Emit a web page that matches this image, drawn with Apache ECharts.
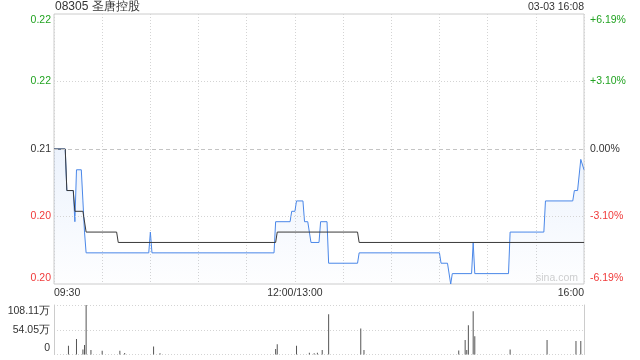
<!DOCTYPE html>
<html>
<head>
<meta charset="utf-8">
<script src="https://cdn.jsdelivr.net/npm/echarts@6/dist/echarts.min.js"></script>
<style>
html,body{margin:0;padding:0;background:#fff;}
#chart{width:640px;height:360px;}
</style>
</head>
<body>
<div id="chart"></div>
<script>
// ---- data ----
const title = '08305 圣唐控股';
const stamp = '03-03 16:08';
const prevClose = 0.21;
const priceStep = 0.0065;               // one gridline step on the price axis
const priceTickLabels = ['0.20', '0.20', '0.21', '0.22', '0.22'];
const pctTickLabels = ['-6.19%', '-3.10%', '0.00%', '+3.10%', '+6.19%'];
const volTickLabels = ['0', '54.05万', '108.11万'];
const volMax = 1081100;
const timeLabels = { 0: '09:30', 150: '12:00/13:00', 330: '16:00' };

// price line (change points)
const priceTimes = ['09:30','09:37','09:38','09:42','09:43','09:44','09:47','09:48','09:49','09:50',
  '10:29','10:30','10:31','11:47','11:48','11:57','11:58','12:00','13:01','13:05','13:06','13:08',
  '13:10','13:15','13:16','13:20','13:21','13:39','13:40','14:30','14:31','14:35','14:37','14:38',
  '14:50','14:51','14:52','15:13','15:14','15:35','15:36','15:53','15:54','15:56','15:58','16:00'];
const prices = [0.210,0.210,0.206,0.206,0.203,0.208,0.208,0.205,0.202,0.200,
  0.200,0.202,0.200,0.200,0.203,0.203,0.204,0.204,0.205,0.205,0.203,0.203,
  0.201,0.201,0.203,0.203,0.199,0.199,0.200,0.200,0.199,0.199,0.197,0.198,
  0.198,0.201,0.198,0.198,0.202,0.202,0.205,0.205,0.206,0.206,0.209,0.208];

// average price line (change points)
const avgTimes = ['09:30','09:37','09:38','09:42','09:43','09:48','09:50','10:09','10:10',
  '11:48','11:49','13:39','13:40','16:00'];
const avgPrices = [0.210,0.210,0.206,0.206,0.204,0.204,0.202,0.202,0.201,
  0.201,0.202,0.202,0.201,0.201];

// volume bars
const volTimes = ['09:39','09:44','09:48','09:49','09:50','09:53','10:00','10:11','10:14','10:32','10:36',
  '11:48','11:49','13:01','13:09','13:12','13:14','13:17','13:21','13:41','13:43',
  '14:42','14:46','14:47','14:48','14:51','14:52','15:14','15:37','15:55','15:58'];
const volumes = [190000,340000,110000,210000,1081100,100000,80000,80000,35000,175000,30000,
  120000,225000,190000,40000,30000,40000,100000,880000,570000,100000,
  90000,315000,100000,640000,945000,400000,108000,315000,295000,295000];

// ---- helpers ----
const GREEN = '#22a322', RED = '#f03a3a', TXT = '#333';
const FONT = 'Liberation Sans, Arial, sans-serif';
function toIdx(t){
  const [h, m] = t.split(':').map(Number);
  const v = h*60 + m;
  return v <= 720 ? v - 570 : v - 780 + 150;
}
const toStep = p => (p - prevClose) / priceStep;
const priceData = priceTimes.map((t,i)=>[toIdx(t), toStep(prices[i])]);
const avgData = avgTimes.map((t,i)=>[toIdx(t), toStep(avgPrices[i])]);
const volData = volTimes.map((t,i)=>[toIdx(t), volumes[i]]);

function sideLabel(arr){
  return function(v){
    const i = Math.round(v) + 2;
    const s = arr[i];
    if (i === arr.length - 1) return '{t|' + s + '}';
    if (i === 0) return '{b|' + s + '}';
    return '{m|' + s + '}';
  };
}
const signColor = v => (v > 0.001 ? GREEN : (v < -0.001 ? RED : TXT));
const richShift = { t:{padding:[12,0,0,0]}, b:{padding:[0,0,12,0]}, m:{} };
const dotted = { color:'#d4d4d4', type:[1,2], width:1 };

const chart = echarts.init(document.getElementById('chart'), null, {renderer:'canvas'});
chart.setOption({
  animation:false,
  backgroundColor:'#fff',
  textStyle:{fontFamily:FONT},
  graphic:[
    {type:'text', left:55, top:1, style:{text:title, fontSize:12, fill:TXT, fontFamily:FONT}},
    {type:'text', right:56, top:2, style:{text:stamp, fontSize:10.5, fill:TXT, fontFamily:FONT}},
    {type:'text', right:62, top:273, style:{text:'sina.com', fontSize:10.5, fill:'#cfcfcf', fontFamily:FONT}}
  ],
  grid:[
    {left:54, right:56, top:14, height:270, show:true, borderColor:'#cccccc', borderWidth:1, backgroundColor:'transparent'},
    {left:54, right:56, top:305, height:49.5}
  ],
  xAxis:[
    {type:'value', gridIndex:0, min:0, max:330, interval:30,
     axisLine:{show:false}, axisTick:{show:false},
     splitLine:{show:true, lineStyle:dotted},
     axisLabel:{show:true, margin:4, fontSize:10.5, color:TXT, fontFamily:FONT,
       showMinLabel:true, showMaxLabel:true, alignMinLabel:'left', alignMaxLabel:'right',
       formatter:v => timeLabels[Math.round(v)] || ''}},
    {type:'value', gridIndex:1, min:0, max:330, interval:30,
     axisLine:{show:false}, axisTick:{show:false}, splitLine:{show:false}, axisLabel:{show:false}}
  ],
  yAxis:[
    {type:'value', gridIndex:0, min:-2, max:2, interval:1, position:'left',
     axisLine:{show:false}, axisTick:{show:false}, splitLine:{show:false},
     axisLabel:{margin:3, fontSize:10.5, fontFamily:FONT, color:signColor,
       formatter:sideLabel(priceTickLabels), rich:richShift}},
    {type:'value', gridIndex:0, min:-2, max:2, interval:1, position:'right',
     axisLine:{show:false}, axisTick:{show:false}, splitLine:{show:false},
     axisLabel:{margin:6, fontSize:10.5, fontFamily:FONT, color:signColor,
       formatter:sideLabel(pctTickLabels), rich:richShift}},
    {type:'value', gridIndex:1, min:0, max:volMax, interval:volMax/2, position:'left',
     axisLine:{show:true, lineStyle:{color:'#cccccc'}}, axisTick:{show:false},
     splitLine:{show:true, lineStyle:dotted},
     axisLabel:{margin:4, fontSize:10.5, fontFamily:FONT, color:TXT,
       formatter:function(v){
         const i = Math.round(v / (volMax/2));
         const s = volTickLabels[i];
         if (i === 2) return '{t|' + s + '}';
         if (i === 0) return '{b|' + s + '}';
         return '{m|' + s + '}';
       }, rich:richShift}},
    {type:'value', gridIndex:1, min:0, max:volMax, position:'right',
     axisLine:{show:true, lineStyle:{color:'#cccccc'}}, axisTick:{show:false},
     splitLine:{show:false}, axisLabel:{show:false}}
  ],
  series:[
    {type:'line', name:'price', xAxisIndex:0, yAxisIndex:0, data:priceData,
     showSymbol:false, symbol:'none', lineStyle:{color:'#4a87e8', width:1},
     areaStyle:{origin:'start', color:new echarts.graphic.LinearGradient(0,0,0,1,[
       {offset:0, color:'rgba(74,135,232,0.15)'},
       {offset:1, color:'rgba(74,135,232,0.01)'}])},
     markLine:{silent:true, symbol:'none', label:{show:false},
       data:[
         {yAxis:0, lineStyle:{color:'#c4c4c4', type:[4,3], width:1}},
         {yAxis:1, lineStyle:dotted},
         {yAxis:-1, lineStyle:dotted}
       ]},
     z:3},
    {type:'line', name:'avg', xAxisIndex:0, yAxisIndex:0, data:avgData,
     showSymbol:false, symbol:'none', lineStyle:{color:'#3a3a3a', width:1}, z:4},
    {type:'bar', name:'vol', xAxisIndex:1, yAxisIndex:2, data:volData,
     barWidth:1, itemStyle:{color:'#555555'}}
  ]
});
</script>
</body>
</html>
